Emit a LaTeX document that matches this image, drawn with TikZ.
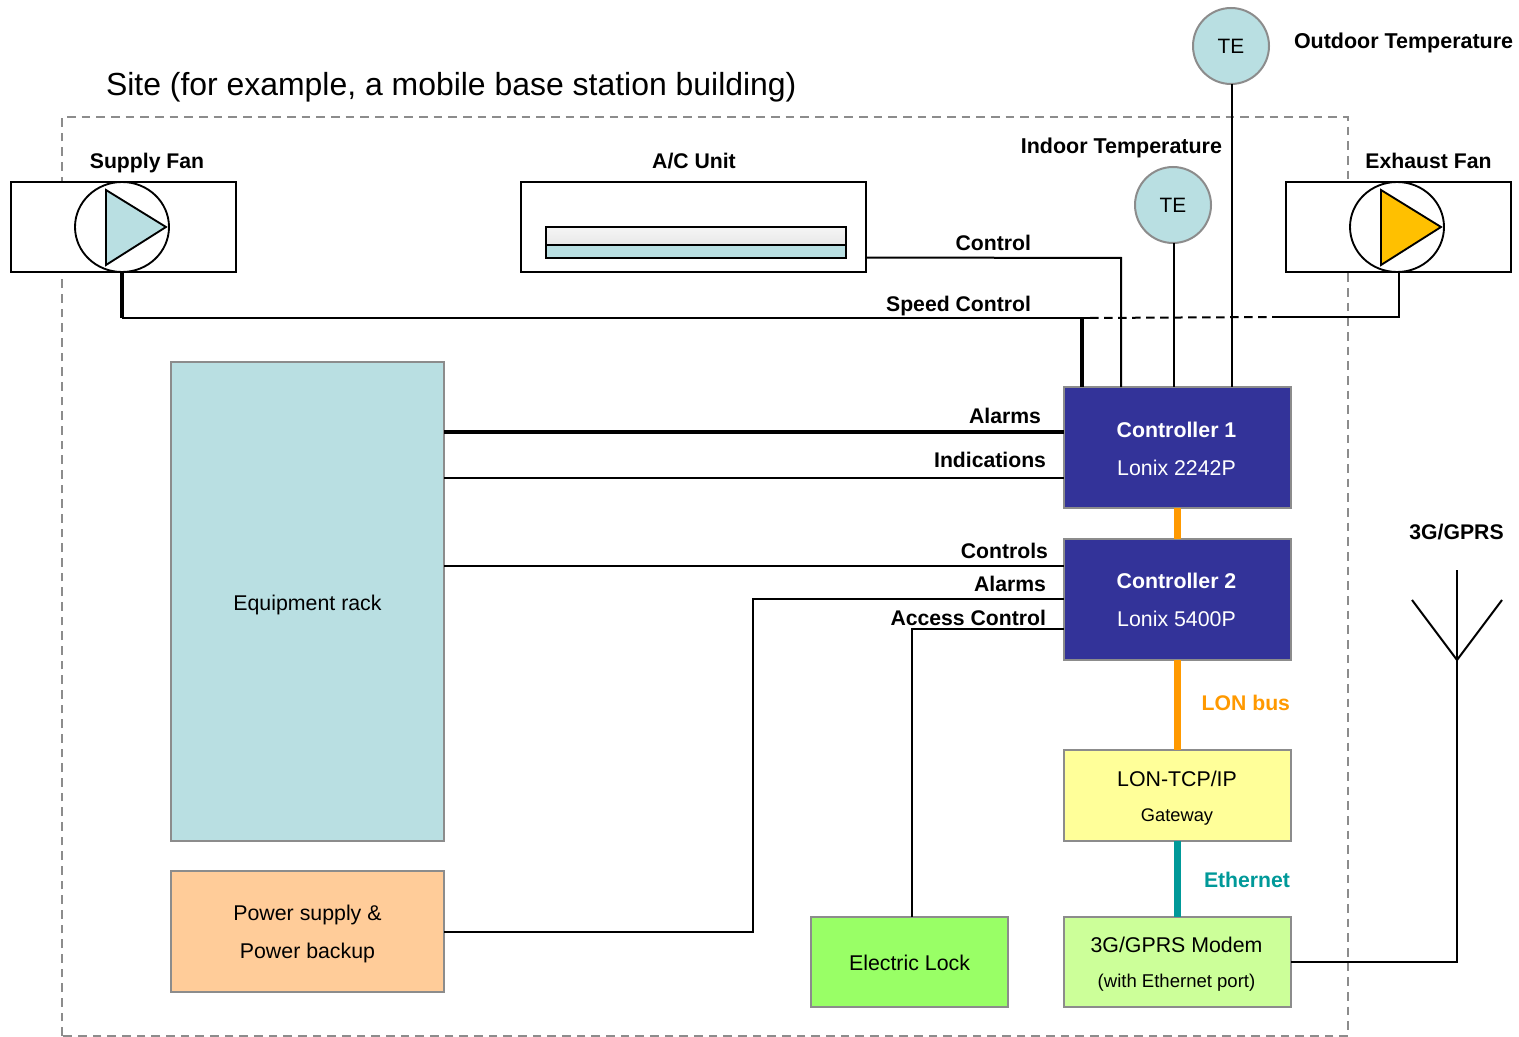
\documentclass[tikz,border=0pt]{standalone}
\usepackage{fontspec}
\usetikzlibrary{shapes.geometric}
\setmainfont{Liberation Sans}
\definecolor{paleteal}{HTML}{B9DFE2}
\definecolor{navy}{HTML}{333399}
\definecolor{orangeline}{HTML}{FF9900}
\definecolor{tealline}{HTML}{009999}
\definecolor{edgegray}{HTML}{8C8C8C}
\definecolor{gwfill}{HTML}{FFFF99}
\definecolor{modemfill}{HTML}{CCFF99}
\definecolor{lockfill}{HTML}{99FF66}
\definecolor{powerfill}{HTML}{FFCC99}
\definecolor{amber}{HTML}{FFC000}
\tikzset{
  every node/.style={inner sep=0pt,outer sep=0pt},
  box/.style n args={3}{draw=edgegray,line width=1.5pt,fill=#3,
    minimum width=#1*0.75pt,minimum height=#2*0.75pt},
  bodytext/.style={align=center,font=\fontsize{16}{28.5}\selectfont},
  bodytight/.style={align=center,font=\fontsize{16}{26.5}\selectfont},
  fanbox/.style={draw=black,line width=1.5pt,fill=white,minimum width=225*0.75pt,minimum height=90*0.75pt},
  fancirc/.style={draw=black,line width=1.4pt,fill=white,ellipse,minimum width=94*0.75pt,minimum height=90*0.75pt},
  sensor/.style={draw=edgegray,line width=1.5pt,fill=paleteal,circle,minimum size=76*0.75pt,font=\fontsize{15.6}{18}\selectfont},
  lab/.style={font=\bfseries\fontsize{15.9}{18}\selectfont,anchor=base east},
  labc/.style={font=\bfseries\fontsize{15.9}{18}\selectfont,anchor=base},
  lablong/.style={font=\bfseries\fontsize{16.1}{18}\selectfont},
  wire/.style={draw=black,line width=1.5pt},
  wirethick/.style={draw=black,line width=2.3pt},
  bus/.style={line width=5.5pt},
  fanblade/.style={draw=black,line width=1.4pt,line join=miter},
}
\begin{document}
\begin{tikzpicture}[x=0.75pt,y=-0.75pt]
\useasboundingbox (0,0) rectangle (1519,1037);
% site outline
\draw[draw=edgegray,line width=1.2pt,dash pattern=on 6.5pt off 4.5pt] (62,1036) -- (62,117) -- (1348,117) -- (1348,1036) -- cycle;
\node[font=\fontsize{23.95}{28}\selectfont,anchor=base west] (title) at (106,96) {Site (for example, a mobile base station building)};
% fans
\node[fanbox] (sfbox) at (123.5,227) {};
\node[fancirc] (sfc) at (122,227) {};
\draw[fanblade,fill=paleteal] (106,190) -- (166,227) -- (106,265) -- cycle;
\node[labc] (sfl) at (147,169) {Supply Fan};
\node[fanbox] (efbox) at (1398.5,227) {};
\node[fancirc] (efc) at (1397,227) {};
\draw[fanblade,fill=amber] (1381,190) -- (1441,227) -- (1381,265) -- cycle;
\node[labc] (efl) at (1428.5,169) {Exhaust Fan};
% AC
\node[fanbox,minimum width=345*0.75pt] (ac) at (693.5,227) {};
\node[draw=black,line width=1.2pt,top color=black!4,bottom color=black!9,minimum width=300*0.75pt,minimum height=18*0.75pt] (actop) at (696,236) {};
\node[draw=black,line width=1.2pt,fill=paleteal,minimum width=300*0.75pt,minimum height=13*0.75pt] (acbot) at (696,251.5) {};
\node[labc] (acl) at (694,169) {A/C Unit};
% sensors
\node[sensor] (te1) at (1231,46) {TE};
\node[sensor] (te2) at (1173,205) {TE};
\node[lablong,anchor=base west] (otl) at (1294,49) {Outdoor Temperature};
\node[lablong,anchor=base east] (itl) at (1222,154) {Indoor Temperature};
% boxes
\node[box={227}{121}{navy}] (c1) at (1177.5,447.5) {};
\node[bodytext,text=white] (c1t) at (1176.5,448.5) {\textbf{Controller 1}\\Lonix 2242P};
\node[box={227}{121}{navy}] (c2) at (1177.5,599.5) {};
\node[bodytext,text=white] (c2t) at (1176.5,599.5) {\textbf{Controller 2}\\Lonix 5400P};
\node[box={227}{91}{gwfill}] (gw) at (1177.5,795.5) {};
\node[bodytight] (gwt) at (1177,798) {LON-TCP/IP\\{\fontsize{13.7}{20}\selectfont Gateway}};
\node[box={227}{90}{modemfill}] (modem) at (1177.5,962) {};
\node[bodytight] (modemt) at (1176.5,964.5) {3G/GPRS Modem\\{\fontsize{13.9}{20}\selectfont (with Ethernet port)}};
\node[box={197}{90}{lockfill}] (lock) at (909.5,962) {};
\node[bodytext] (lockt) at (909.5,963) {Electric Lock};
\node[box={273}{479}{paleteal}] (rack) at (307.5,601.5) {};
\node[bodytext] (rackt) at (307.5,604.5) {Equipment rack};
\node[box={273}{121}{powerfill}] (power) at (307.5,931.5) {};
\node[bodytext] (powert) at (307.5,934) {Power supply \&\\Power backup};
% named ends
\coordinate (a1) at (1064,432);
\coordinate (i1) at (1064,478);
\coordinate (k2) at (1064,566);
\coordinate (a2) at (1064,599);
\coordinate (ac2) at (1064,629);
\coordinate (sp) at (1082,318);
\coordinate (spd) at (1090,318);
\coordinate (spe) at (1272,317);
\coordinate (ctl) at (1121,258);
\coordinate (tip) at (1457,570);
\coordinate (vee) at (1457,660);
\coordinate (modend) at (1457,962);
\coordinate (vl) at (1412,600);
\coordinate (vr) at (1502,600);
% wires
\draw[wire] (rack.east |- k2) -- (k2);
\draw[wire] (rack.east |- i1) -- (i1);
\draw[wirethick] (rack.east |- a1) -- (a1);
\draw[wire] (power.east) -- (753,931.5) -- (753,599) -- (a2);
\draw[wire] (912,917) -- (912,629) -- (ac2);
\draw[wire] (1232,84) -- (1232,387);
\draw[wire] (1174,243) -- (1174,387);
\draw[wire] (866,257.5) -- (ctl) -- (ctl |- c1.north);
\draw[wire] (122,318) -- (spd);
\draw[wirethick] (122,272) -- (122,318);
\draw[wirethick] (sp) -- (sp |- c1.north);
\draw[wire,dash pattern=on 6.5pt off 4pt] (spd) -- (spe);
\draw[wire] (spe) -- (1399,317) -- (1399,272);
\draw[wire,line join=miter] (modem.east |- modend) -- (modend) -- (tip);
\draw[wire,line join=miter] (vl) -- (vee) -- (vr);
% buses
\draw[orangeline,bus] (c1.south) -- (c2.north);
\draw[orangeline,bus] (c2.south) -- (gw.north);
\draw[tealline,bus] (gw.south) -- (modem.north);
% labels
\node[lab] (lc) at (1031,251) {Control};
\node[lab] (ls) at (1031,311) {Speed Control};
\node[lab] (la1) at (1041,423) {Alarms};
\node[lab] (li) at (1046,467) {Indications};
\node[lab] (lk) at (1048,558) {Controls};
\node[lab] (la2) at (1046,591) {Alarms};
\node[lab] (lac) at (1046,625) {Access Control};
\node[lab,text=orangeline] (llon) at (1290,710) {LON bus};
\node[lab,text=tealline] (leth) at (1290,887) {Ethernet};
\node[labc] (l3g) at (1456.5,539) {3G/GPRS};
\end{tikzpicture}
\end{document}
